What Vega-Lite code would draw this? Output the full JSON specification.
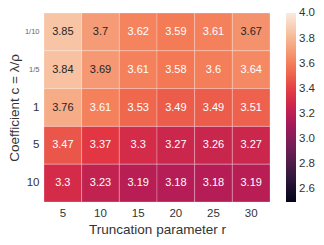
{
  "$schema": "https://vega.github.io/schema/vega-lite/v6.json",
  "autosize": "none",
  "width": 226,
  "height": 189,
  "padding": {"left": 44, "top": 13, "right": 54, "bottom": 43},
  "background": "white",
  "config": {
    "view": {"stroke": null},
    "font": "Liberation Sans",
    "axis": {"domain": false, "ticks": false, "labelFont": "Liberation Sans", "titleFont": "Liberation Sans", "labelColor": "#333333", "titleColor": "#333333", "labelFontSize": 11.5, "titleFontSize": 13.5, "titleFontWeight": "normal", "labelAngle": 0},
    "legend": {"labelFont": "Liberation Sans", "labelColor": "#333333", "labelFontSize": 11.5}
  },
  "data": {"values": [
    {"c": "1/10", "r": 5, "value": 3.85}, {"c": "1/10", "r": 10, "value": 3.7}, {"c": "1/10", "r": 15, "value": 3.62}, {"c": "1/10", "r": 20, "value": 3.59}, {"c": "1/10", "r": 25, "value": 3.61}, {"c": "1/10", "r": 30, "value": 3.67},
    {"c": "1/5", "r": 5, "value": 3.84}, {"c": "1/5", "r": 10, "value": 3.69}, {"c": "1/5", "r": 15, "value": 3.61}, {"c": "1/5", "r": 20, "value": 3.58}, {"c": "1/5", "r": 25, "value": 3.6}, {"c": "1/5", "r": 30, "value": 3.64},
    {"c": "1", "r": 5, "value": 3.76}, {"c": "1", "r": 10, "value": 3.61}, {"c": "1", "r": 15, "value": 3.53}, {"c": "1", "r": 20, "value": 3.49}, {"c": "1", "r": 25, "value": 3.49}, {"c": "1", "r": 30, "value": 3.51},
    {"c": "5", "r": 5, "value": 3.47}, {"c": "5", "r": 10, "value": 3.37}, {"c": "5", "r": 15, "value": 3.3}, {"c": "5", "r": 20, "value": 3.27}, {"c": "5", "r": 25, "value": 3.26}, {"c": "5", "r": 30, "value": 3.27},
    {"c": "10", "r": 5, "value": 3.3}, {"c": "10", "r": 10, "value": 3.23}, {"c": "10", "r": 15, "value": 3.19}, {"c": "10", "r": 20, "value": 3.18}, {"c": "10", "r": 25, "value": 3.18}, {"c": "10", "r": 30, "value": 3.19}
  ]},
  "encoding": {
    "x": {"field": "r", "type": "ordinal", "scale": {"paddingInner": 0, "paddingOuter": 0}, "axis": {"title": "Truncation parameter r", "labelPadding": 5, "titlePadding": 4}},
    "y": {"field": "c", "type": "ordinal", "sort": ["1/10", "1/5", "1", "5", "10"], "scale": {"paddingInner": 0, "paddingOuter": 0},
      "axis": {"title": "Coefficient c = λ/ρ", "labelPadding": 5, "titlePadding": 3,
        "labelFontSize": {"condition": {"test": "indexof(datum.label, '/') >= 0", "value": 7.5}, "value": 11.5},
        "labelColor": {"condition": {"test": "indexof(datum.label, '/') >= 0", "value": "#666666"}, "value": "#333333"}}}
  },
  "layer": [
    {
      "mark": {"type": "rect", "stroke": "white", "strokeWidth": 0.5, "strokeOpacity": 0.5},
      "encoding": {
        "color": {"field": "value", "type": "quantitative",
          "scale": {"domain": [2.5, 4.003], "range": ["#03051a", "#35193e", "#701f57", "#ad1759", "#e13342", "#f37651", "#f6b48f", "#faebdd"], "interpolate": "rgb"},
          "legend": {"title": null, "gradientLength": 189, "gradientThickness": 10, "offset": 16, "values": [2.6, 2.8, 3.0, 3.2, 3.4, 3.6, 3.8, 4.0], "format": ".1f", "labelOverlap": false, "labelOffset": 3, "gradientStrokeWidth": 0}}
      }
    },
    {
      "mark": {"type": "text", "fontSize": 11, "font": "Liberation Sans"},
      "encoding": {
        "text": {"field": "value", "type": "quantitative", "format": ".3~g"},
        "color": {"condition": {"test": "datum.value >= 3.66", "value": "#262626"}, "value": "white"}
      }
    }
  ]
}
